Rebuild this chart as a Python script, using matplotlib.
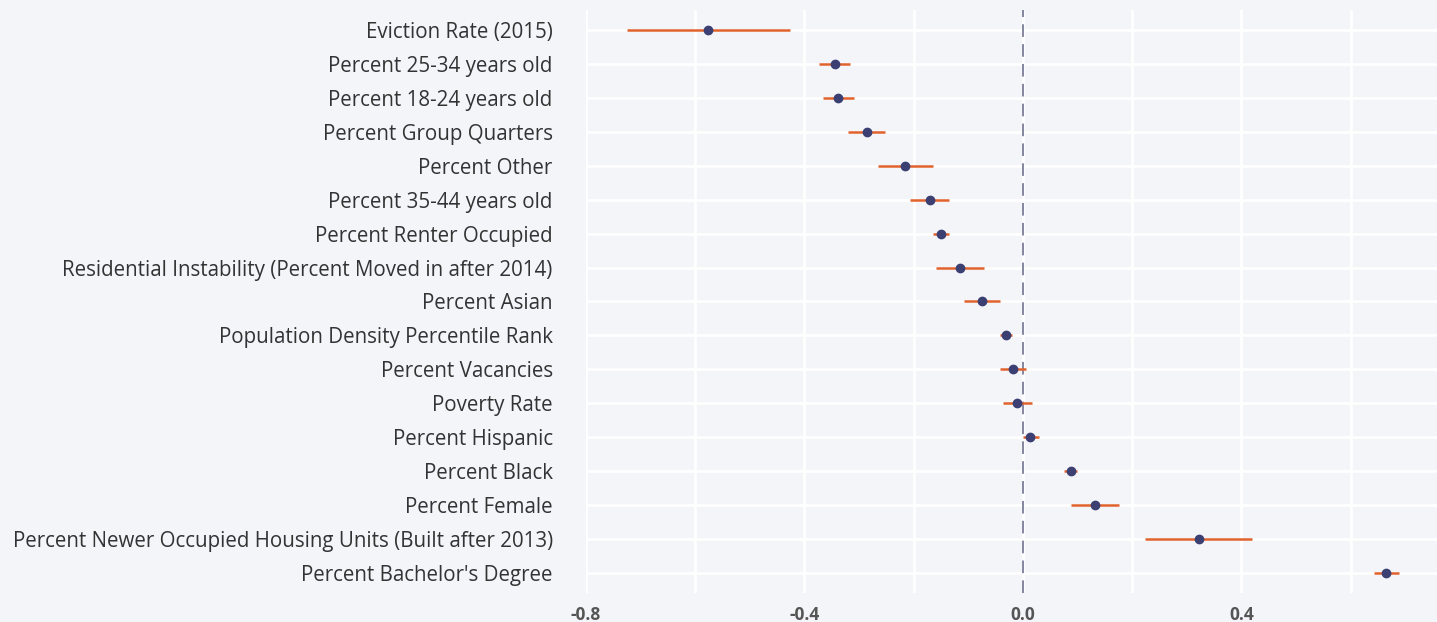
import matplotlib.pyplot as plt

# coefficient estimates with lower / upper bounds
variables = [
    "Eviction Rate (2015)",
    "Percent 25-34 years old",
    "Percent 18-24 years old",
    "Percent Group Quarters",
    "Percent Other",
    "Percent 35-44 years old",
    "Percent Renter Occupied",
    "Residential Instability (Percent Moved in after 2014)",
    "Percent Asian",
    "Population Density Percentile Rank",
    "Percent Vacancies",
    "Poverty Rate",
    "Percent Hispanic",
    "Percent Black",
    "Percent Female",
    "Percent Newer Occupied Housing Units (Built after 2013)",
    "Percent Bachelor's Degree",
]
estimate = [-0.577, -0.345, -0.338, -0.285, -0.216, -0.170, -0.150, -0.115,
            -0.075, -0.031, -0.018, -0.011, 0.013, 0.088, 0.131, 0.322, 0.665]
lower = [-0.725, -0.373, -0.367, -0.320, -0.265, -0.206, -0.164, -0.159,
         -0.108, -0.042, -0.042, -0.037, 0.000, 0.075, 0.088, 0.223, 0.643]
upper = [-0.426, -0.316, -0.309, -0.252, -0.164, -0.135, -0.135, -0.071,
         -0.042, -0.020, 0.005, 0.016, 0.029, 0.099, 0.175, 0.420, 0.689]

xticks = [-0.8, -0.6, -0.4, -0.2, 0.0, 0.2, 0.4, 0.6]
xticklabels = ["-0.8", "", "-0.4", "", "0.0", "", "0.4", ""]

bg = "#f3f5f9"
plt.rcParams['font.family'] = ['Open Sans', 'DejaVu Sans']

fig = plt.figure(figsize=(14.37, 6.22), dpi=100, facecolor=bg)
ax = fig.add_axes([0.4078, 0.0466, 0.5922, 0.9374])
ax.set_facecolor(bg)

ypos = list(range(len(variables)))
ax.hlines(ypos, lower, upper, color="#e0622c", lw=1.8, zorder=3)
ax.scatter(estimate, ypos, s=36, color="#3b3f72", zorder=4)
ax.axvline(0, color="#7a7d95", lw=1.3, ls=(0, (7, 4)), zorder=2)

ax.set_xlim(-0.8, 0.758)
ax.set_ylim(len(variables) - 0.41, -0.59)
ax.set_xticks(xticks)
ax.set_xticklabels(xticklabels, fontsize=12.5, fontweight="bold", color="#555555")
ax.set_yticks(ypos)
ax.set_yticklabels(variables, fontsize=14.8, color="#333333")
ax.tick_params(axis="both", length=0)
ax.tick_params(axis="x", pad=9)
ax.tick_params(axis="y", pad=24)
ax.grid(True, color="white", lw=2, zorder=0)
ax.set_axisbelow(True)
for s in ax.spines.values():
    s.set_visible(False)

fig.savefig("out.png", dpi=100, facecolor=bg)
